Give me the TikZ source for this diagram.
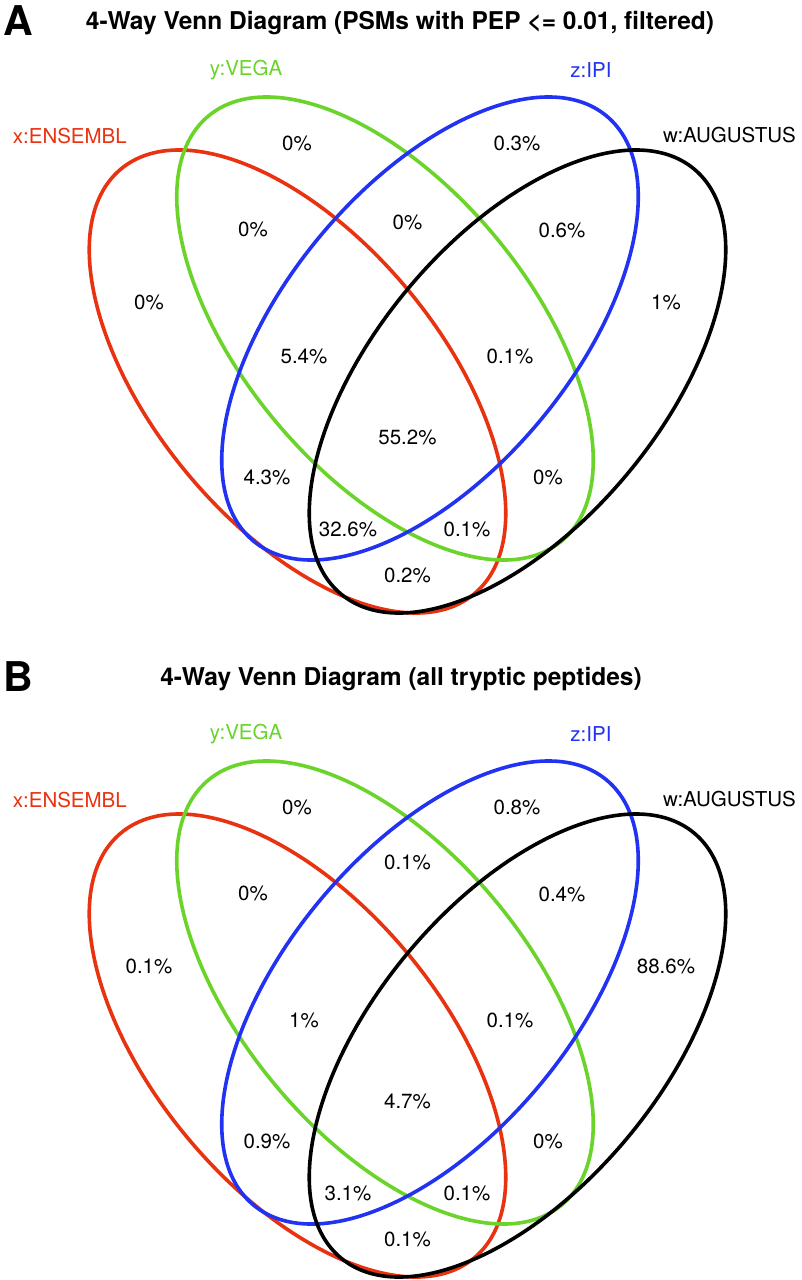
\documentclass[tikz,border=0pt]{standalone}
\usepackage{fontspec}
\setmainfont{TeX Gyre Heros}
\definecolor{vred}{RGB}{232,50,16}
\definecolor{vgreen}{RGB}{106,212,42}
\definecolor{vblue}{RGB}{34,50,242}
\begin{document}
\begin{tikzpicture}[x=1pt,y=-1pt,
  ell/.style={line width=3.6pt},
  num/.style={inner sep=0pt, font=\fontsize{20.5}{24}\selectfont, text height=14.8pt, text depth=0pt},
  setlab/.style={num},
  ttl/.style={inner sep=0pt, font=\fontsize{24.5}{28}\bfseries\selectfont, text height=17.6pt, text depth=0pt},
  panel/.style={inner sep=0pt, font=\fontsize{41}{44}\bfseries\selectfont, text height=29.5pt, text depth=0pt}]
\fill[white] (0,0) rectangle (802,1280);
\useasboundingbox (0,0) rectangle (802,1280);

% ---------------- Panel A ----------------
\node[panel] (pA) at (18,21) {A};
\node[ttl] (tA) at (400,21) {4-Way Venn Diagram (PSMs with PEP <= 0.01, filtered)};

\draw[ell,vred,shift={(297.5,381.5)},rotate=-50.28] (0,0) ellipse [x radius=276.3pt, y radius=143.55pt];
\draw[ell,vgreen,shift={(385,328.5)},rotate=-50.28] (0,0) ellipse [x radius=276.3pt, y radius=143.55pt];
\draw[ell,vblue,shift={(430,328.5)},rotate=50.28] (0,0) ellipse [x radius=276.3pt, y radius=143.55pt];
\draw[ell,black,shift={(517.5,381.5)},rotate=50.28] (0,0) ellipse [x radius=276.3pt, y radius=143.55pt];

\node[setlab,vgreen] (yA) at (246,68) {y:VEGA};
\node[setlab,vblue] (zA) at (591,70) {z:IPI};
\node[setlab,vred,anchor=east] (xA) at (127,136) {x:ENSEMBL};
\node[setlab,black,anchor=west] (wA) at (663,135) {w:AUGUSTUS};

\node[num] (a1) at (297,143) {0\%};
\node[num] (a2) at (517,143) {0.3\%};
\node[num] (a3) at (253,229) {0\%};
\node[num] (a4) at (407.5,222) {0\%};
\node[num] (a5) at (562,230) {0.6\%};
\node[num] (a6) at (149,302) {0\%};
\node[num] (a7) at (666,302) {1\%};
\node[num] (a8) at (304,356) {5.4\%};
\node[num] (a9) at (510,356) {0.1\%};
\node[num] (a10) at (407.5,437) {55.2\%};
\node[num] (a11) at (267,477) {4.3\%};
\node[num] (a12) at (548,477) {0\%};
\node[num] (a13) at (348,529) {32.6\%};
\node[num] (a14) at (467,529) {0.1\%};
\node[num] (a15) at (407.5,575) {0.2\%};

% ---------------- Panel B ----------------
\begin{scope}[yshift=-664pt]
\draw[ell,vred,shift={(297.5,381.5)},rotate=-50.28] (0,0) ellipse [x radius=276.3pt, y radius=143.55pt];
\draw[ell,vgreen,shift={(385,328.5)},rotate=-50.28] (0,0) ellipse [x radius=276.3pt, y radius=143.55pt];
\draw[ell,vblue,shift={(430,328.5)},rotate=50.28] (0,0) ellipse [x radius=276.3pt, y radius=143.55pt];
\draw[ell,black,shift={(517.5,381.5)},rotate=50.28] (0,0) ellipse [x radius=276.3pt, y radius=143.55pt];

\node[setlab,vgreen] (yB) at (246,68) {y:VEGA};
\node[setlab,vblue] (zB) at (591,70) {z:IPI};
\node[setlab,vred,anchor=east] (xB) at (127,136) {x:ENSEMBL};
\node[setlab,black,anchor=west] (wB) at (663,135) {w:AUGUSTUS};

\node[num] (b1) at (297,143) {0\%};
\node[num] (b2) at (517,143) {0.8\%};
\node[num] (b3) at (253,229) {0\%};
\node[num] (b4) at (407.5,198) {0.1\%};
\node[num] (b5) at (562,230) {0.4\%};
\node[num] (b6) at (149,302) {0.1\%};
\node[num] (b7) at (666,302) {88.6\%};
\node[num] (b8) at (304,356) {1\%};
\node[num] (b9) at (510,356) {0.1\%};
\node[num] (b10) at (407.5,437) {4.7\%};
\node[num] (b11) at (267,477) {0.9\%};
\node[num] (b12) at (548,477) {0\%};
\node[num] (b13) at (348,529) {3.1\%};
\node[num] (b14) at (467,529) {0.1\%};
\node[num] (b15) at (407.5,575) {0.1\%};
\end{scope}
\node[panel] (pB) at (18,677) {B};
\node[ttl] (tB) at (401,677) {4-Way Venn Diagram (all tryptic peptides)};
\end{tikzpicture}
\end{document}
